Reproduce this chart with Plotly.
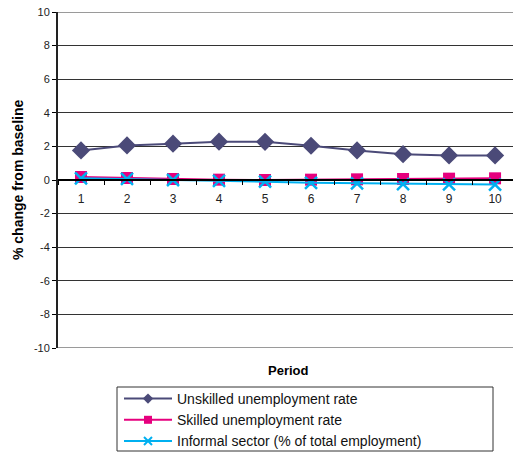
import plotly.graph_objects as go

periods = [1, 2, 3, 4, 5, 6, 7, 8, 9, 10]
unskilled = [1.76, 2.06, 2.16, 2.28, 2.27, 2.04, 1.76, 1.54, 1.46, 1.46]
skilled = [0.18, 0.12, 0.06, 0.02, 0.0, 0.02, 0.04, 0.06, 0.08, 0.1]
informal = [0.1, 0.06, 0.0, -0.05, -0.1, -0.17, -0.2, -0.24, -0.26, -0.27]
y_ticks = [10, 8, 6, 4, 2, 0, -2, -4, -6, -8, -10]
y_ticktext = [str(v) for v in y_ticks]

FONT = "Liberation Sans, Arial, sans-serif"
W, H = 513, 452
L, T, B = 58, 12, 104
PW, PH = W - L, H - T - B  # plot area size in pixels


def px_x(p):
    return (p - L) / PW


def px_y(p):
    return (H - B - p) / PH


series = [
    ("Unskilled unemployment rate", unskilled, "#4B4A78", "diamond", 14, 8),
    ("Skilled unemployment rate", skilled, "#E6007E", "square", 12, 8),
    ("Informal sector (% of total employment)", informal, "#00B0F0", "x-thin", 12, 8),
]

fig = go.Figure()
for name, vals, color, sym, size, leg_size in series:
    mk = dict(symbol=sym, size=size, color=color)
    leg_mk = dict(symbol=sym, size=leg_size, color=color)
    if sym == "x-thin":
        mk["line"] = dict(color=color, width=2.5)
        leg_mk["line"] = dict(color=color, width=2)
    fig.add_trace(go.Scatter(
        x=periods, y=vals, mode="lines+markers", name=name,
        line=dict(color=color, width=2), marker=mk, showlegend=False,
    ))
    # legend entry with a smaller marker
    fig.add_trace(go.Scatter(
        x=[None], y=[None], mode="lines+markers", name=name,
        line=dict(color=color, width=2), marker=leg_mk, showlegend=True,
    ))

# top and bottom frame lines of the plot area
for yv in (10, -10):
    fig.add_shape(type="line", xref="paper", yref="y", x0=0, x1=1, y0=yv, y1=yv,
                  line=dict(color="#9A9A9A", width=2), layer="below")

# legend frame
fig.add_shape(type="rect", xref="paper", yref="paper",
              x0=px_x(117), x1=px_x(493), y0=px_y(451), y1=px_y(387),
              line=dict(color="#333333", width=1), fillcolor="white", layer="below")

fig.add_annotation(text="<b>Period</b>", x=5.5, xref="x", y=px_y(370), yref="paper",
                   yanchor="middle", showarrow=False,
                   font=dict(family=FONT, size=13, color="#000"))
fig.add_annotation(text="<b>% change from baseline</b>", textangle=-90,
                   x=px_x(18), xref="paper", y=0.5, yref="paper",
                   xanchor="center", yanchor="middle", showarrow=False,
                   font=dict(family=FONT, size=14, color="#000"))

fig.update_layout(
    width=W, height=H,
    margin=dict(l=L, r=0, t=T, b=B, autoexpand=False),
    paper_bgcolor="white", plot_bgcolor="white",
    font=dict(family=FONT, size=11, color="#222"),
    showlegend=True,
    legend=dict(x=px_x(119), y=px_y(383), xanchor="left", yanchor="top",
                bgcolor="rgba(0,0,0,0)", borderwidth=0, itemwidth=48,
                font=dict(family=FONT, size=14, color="#111"), tracegroupgap=0),
    xaxis=dict(
        range=[0.5, 10.39], anchor="free", position=0.5,
        tickvals=periods, ticktext=[str(p) for p in periods],
        ticks="outside", ticklen=8, tickcolor="rgba(0,0,0,0)",
        minor=dict(tick0=0.5, dtick=1, ticks="outside", ticklen=4, tickcolor="#000"),
        showline=True, linecolor="#000", linewidth=1.5,
        showgrid=False, zeroline=False,
        tickfont=dict(family=FONT, size=12, color="#222"),
    ),
    yaxis=dict(
        range=[-10, 10], tickvals=y_ticks, ticktext=y_ticktext,
        ticks="outside", ticklen=4, tickcolor="#000",
        showline=True, linecolor="#222", linewidth=2,
        showgrid=True, gridcolor="#333", gridwidth=1,
        zeroline=False,
        tickfont=dict(family=FONT, size=11, color="#222"),
    ),
)

fig.write_html("out.html")
